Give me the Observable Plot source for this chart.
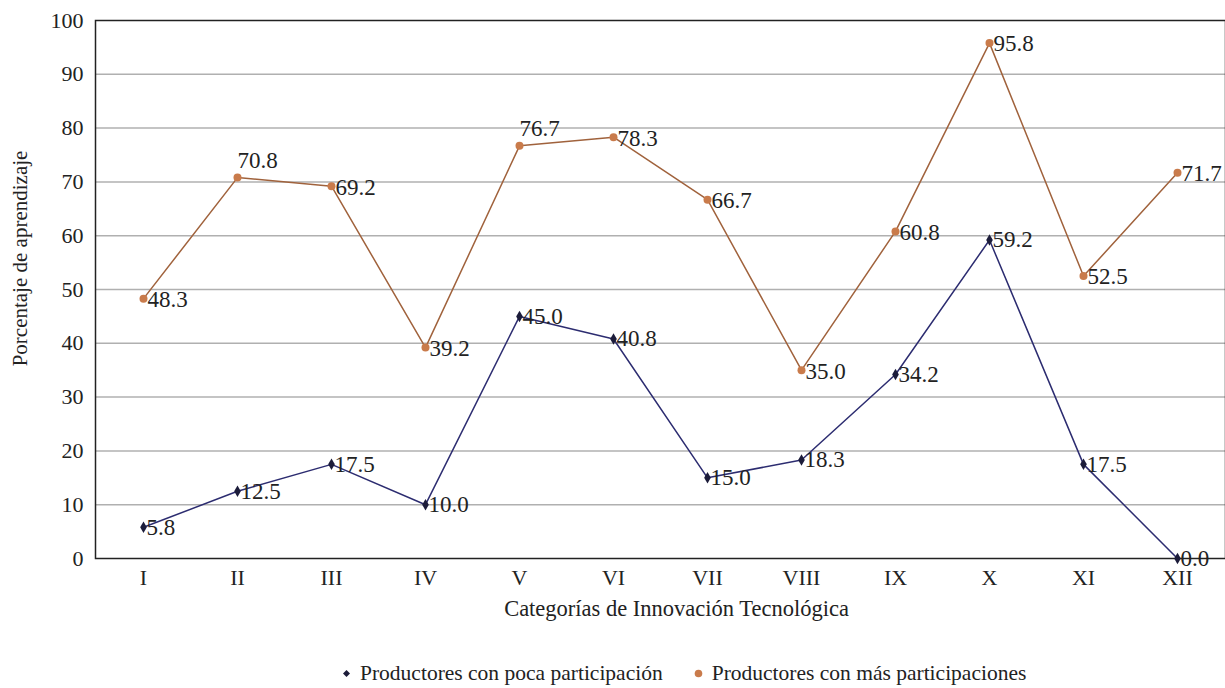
<!DOCTYPE html>
<html>
<head>
<meta charset="utf-8">
<script src="https://cdn.jsdelivr.net/npm/d3@7"></script>
<script src="https://cdn.jsdelivr.net/npm/@observablehq/plot@0.6"></script>
<style>
  html, body { margin: 0; padding: 0; background: #fff; }
  #chart { position: relative; width: 1225px; height: 688px; font-family: "Liberation Serif", "DejaVu Serif", serif; color: #222; }
  #chart svg text { font-family: "Liberation Serif", "DejaVu Serif", serif !important; font-variant: normal !important; font-variant-numeric: normal !important; }
  #legend { position: absolute; left: 342px; top: 661px; font-size: 21.5px; display: flex; align-items: center; white-space: nowrap; }
  .item { display: flex; align-items: center; margin-right: 31px; }
  .sw { display: inline-block; margin-right: 9px; }
</style>
</head>
<body>
<div id="chart"></div>
<script>
const categorias = ["I","II","III","IV","V","VI","VII","VIII","IX","X","XI","XII"];
const poca = [5.8, 12.5, 17.5, 10.0, 45.0, 40.8, 15.0, 18.3, 34.2, 59.2, 17.5, 0.0];
const mas  = [48.3, 70.8, 69.2, 39.2, 76.7, 78.3, 66.7, 35.0, 60.8, 95.8, 52.5, 71.7];
const series = ["Productores con poca participación", "Productores con más participaciones"];
const yTicks = [0, 10, 20, 30, 40, 50, 60, 70, 80, 90, 100];
const etiquetasArriba = ["II", "V"]; // categories where the "más" label sits above the point
const xLabel = "Categorías de Innovación Tecnológica";
const yLabel = "Porcentaje de aprendizaje";

const colors = {poca: {line: "#2c2c70", mark: "#1c1c3a"}, mas: {line: "#a0623c", mark: "#c97b4b"}};

const rows = categorias.flatMap((c, i) => [
  {cat: c, serie: series[0], v: poca[i]},
  {cat: c, serie: series[1], v: mas[i]}
]);
const rowsPoca = rows.filter(d => d.serie === series[0]);
const rowsMas = rows.filter(d => d.serie === series[1]);
const masRight = rowsMas.filter(d => !etiquetasArriba.includes(d.cat));
const masAbove = rowsMas.filter(d => etiquetasArriba.includes(d.cat));

const fontFamily = "'Liberation Serif', 'DejaVu Serif', serif";
const fmt = d => d.v.toFixed(1);

const plot = Plot.plot({
  width: 1225,
  height: 640,
  marginLeft: 95,
  marginRight: 0,
  marginTop: 20,
  marginBottom: 82,
  style: {fontFamily, fontSize: "22px", color: "#222", background: "#fff", overflow: "visible"},
  x: {type: "point", domain: categorias, padding: 0.5},
  y: {domain: [0, 100]},
  marks: [
    Plot.ruleY(yTicks.filter(t => t > 0 && t < 100), {y: d => d, stroke: "#b0b0b0", strokeWidth: 1.5}),
    Plot.axisX({tickSize: 0, tickPadding: 11, fontSize: 22, fontVariant: "normal", label: null}),
    Plot.axisY(yTicks, {tickSize: 0, tickPadding: 12, fontSize: 22, fontVariant: "normal", label: null}),
    Plot.text([xLabel], {frameAnchor: "bottom", dx: 16, dy: 57, fontSize: 22.5, text: d => d}),
    Plot.text([yLabel], {frameAnchor: "left", textAnchor: "middle", dx: -75, dy: -31, rotate: -90, fontSize: 21, text: d => d}),
    Plot.frame({stroke: "#222", strokeWidth: 1.5}),
    Plot.lineY(rowsPoca, {x: "cat", y: "v", stroke: colors.poca.line, strokeWidth: 1.5}),
    Plot.lineY(rowsMas, {x: "cat", y: "v", stroke: colors.mas.line, strokeWidth: 1.5}),
    Plot.dot(rowsPoca, {x: "cat", y: "v", symbol: "diamond", r: 3.5, fill: colors.poca.mark}),
    Plot.dot(rowsMas, {x: "cat", y: "v", r: 4, fill: colors.mas.mark}),
    Plot.text(rowsPoca, {x: "cat", y: "v", text: fmt, textAnchor: "start", dx: 3, dy: 0, fontSize: 23, fontVariant: "normal", fill: "#222"}),
    Plot.text(masRight, {x: "cat", y: "v", text: fmt, textAnchor: "start", dx: 4, dy: 1, fontSize: 23, fontVariant: "normal", fill: "#222"}),
    Plot.text(masAbove, {x: "cat", y: "v", text: fmt, textAnchor: "start", dx: 0, dy: -17, fontSize: 23, fontVariant: "normal", fill: "#222"})
  ]
});
const chart = document.getElementById("chart");
chart.appendChild(plot);

const legend = document.createElement("div");
legend.id = "legend";
legend.innerHTML =
  `<span class="item"><svg class="sw" width="9" height="9"><path d="M4.5,1L8,4.5L4.5,8L1,4.5Z" fill="${colors.poca.mark}"/></svg>${series[0]}</span>` +
  `<span class="item"><svg class="sw" width="9" height="9"><circle cx="4.5" cy="4.5" r="3.8" fill="${colors.mas.mark}"/></svg>${series[1]}</span>`;
chart.appendChild(legend);
</script>
</body>
</html>
